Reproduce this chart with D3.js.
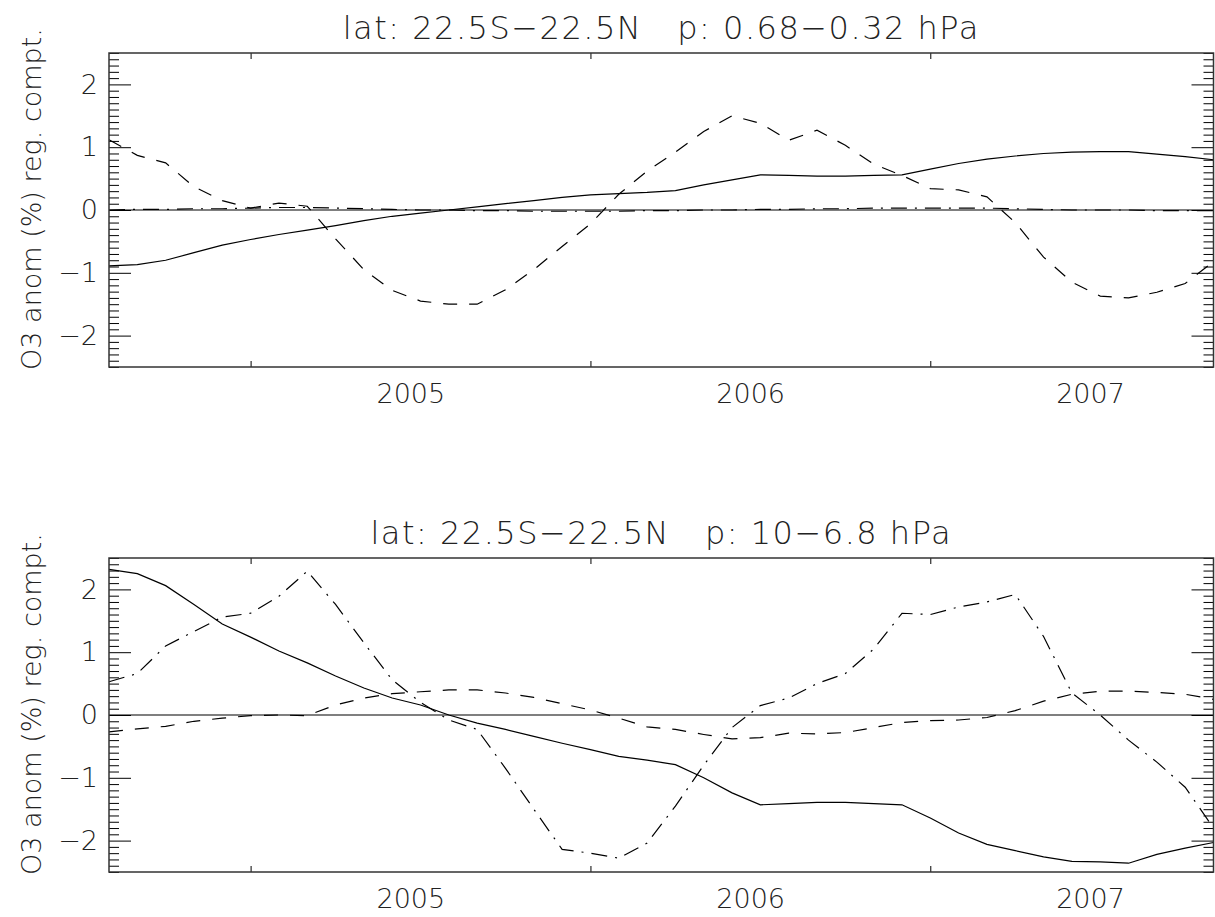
<!DOCTYPE html>
<meta charset="utf-8">
<style>
body { margin: 0; background: #fff; }
text { font-family: "DejaVu Sans", sans-serif; font-weight: 200; fill: #222; }
.tick line { stroke: #000; stroke-width: 1; }
.frame { fill: none; stroke: #333; stroke-width: 1.5; }
.series { fill: none; stroke: #000; stroke-width: 1.2; }
</style>
<body>
<script src="https://cdn.jsdelivr.net/npm/d3@7"></script>
<script>

// monthly points, Aug 2004 .. Nov 2007
var startYear = 2004, startMonth = 7, nMonths = 40;
var months = d3.range(nMonths).map(function(i) { return startYear + (startMonth + i) / 12; });

var yearTicks = [2005, 2006, 2007];
var yearLabels = ["2005", "2006", "2007"];
var yMajor = [-2, -1, 0, 1, 2];

var titles = ["lat: 22.5S\u221222.5N   p: 0.68\u22120.32 hPa",
              "lat: 22.5S\u221222.5N   p: 10\u22126.8 hPa"];
var yLabel = "O3 anom (%) reg. compt.";

// upper panel (0.68-0.32 hPa)
var solidTop = [-0.89, -0.87, -0.80, -0.68, -0.56, -0.47, -0.39, -0.32, -0.25, -0.17,
                -0.10, -0.05, 0.00, 0.05, 0.10, 0.15, 0.20, 0.24, 0.26, 0.28,
                0.31, 0.40, 0.48, 0.56, 0.55, 0.54, 0.54, 0.55, 0.56, 0.65,
                0.74, 0.81, 0.86, 0.90, 0.92, 0.93, 0.93, 0.89, 0.85, 0.80];
var dashTop = [1.12, 0.87, 0.75, 0.37, 0.15, 0.03, 0.11, 0.06, -0.46, -0.95,
               -1.28, -1.45, -1.50, -1.50, -1.27, -0.95, -0.58, -0.22, 0.25, 0.62,
               0.92, 1.25, 1.50, 1.38, 1.11, 1.27, 1.03, 0.73, 0.55, 0.34,
               0.32, 0.21, -0.20, -0.75, -1.15, -1.37, -1.40, -1.31, -1.17, -0.82];
var dashDotTop = [0.00, 0.01, 0.01, 0.02, 0.02, 0.03, 0.04, 0.04, 0.03, 0.02,
                  0.01, 0.00, 0.00, -0.01, -0.01, -0.02, -0.02, -0.02, -0.02, -0.01,
                  -0.01, 0.00, 0.00, 0.01, 0.01, 0.02, 0.02, 0.03, 0.03, 0.03,
                  0.03, 0.03, 0.02, 0.01, 0.00, 0.00, 0.00, -0.01, -0.01, -0.01];

// lower panel (10-6.8 hPa)
var solidBot = [2.32, 2.25, 2.06, 1.76, 1.45, 1.24, 1.02, 0.83, 0.62, 0.43,
                0.27, 0.16, 0.00, -0.13, -0.23, -0.34, -0.45, -0.55, -0.66, -0.72,
                -0.79, -1.00, -1.24, -1.43, -1.41, -1.39, -1.39, -1.41, -1.43, -1.64,
                -1.88, -2.06, -2.16, -2.26, -2.33, -2.34, -2.36, -2.22, -2.12, -2.03];
var dashBot = [-0.27, -0.22, -0.18, -0.10, -0.05, -0.01, 0.00, -0.01, 0.16, 0.27,
               0.34, 0.37, 0.40, 0.40, 0.35, 0.28, 0.18, 0.08, -0.05, -0.19,
               -0.23, -0.31, -0.38, -0.36, -0.29, -0.30, -0.28, -0.20, -0.12, -0.09,
               -0.08, -0.04, 0.07, 0.22, 0.33, 0.38, 0.38, 0.36, 0.33, 0.25];
var dashDotBot = [0.53, 0.66, 1.10, 1.33, 1.56, 1.62, 1.89, 2.29, 1.76, 1.15,
                  0.56, 0.20, -0.08, -0.23, -0.85, -1.50, -2.14, -2.20, -2.28, -2.04,
                  -1.45, -0.80, -0.20, 0.15, 0.27, 0.50, 0.66, 1.05, 1.62, 1.60,
                  1.72, 1.80, 1.92, 1.25, 0.35, 0.00, -0.40, -0.75, -1.15, -1.80];

var panels = [
  {title: titles[0], top: 53, series: [solidTop, dashTop, dashDotTop]},
  {title: titles[1], top: 558, series: [solidBot, dashBot, dashDotBot]}
];
var styles = [null, "14,12", "16,8,2,8"];

var width = 1215, height = 917,
    left = 109, right = 1213.5, plotH = 314;

var svg = d3.select("body").append("svg")
    .attr("width", width)
    .attr("height", height);

var x = d3.scaleLinear()
    .domain([months[0], months[nMonths - 1]])
    .range([left, right]);

var minor = d3.range(-25, 26).filter(function(d) { return d % 10 !== 0; })
    .map(function(d) { return d / 10; });

panels.forEach(function(p) {
  var y = d3.scaleLinear().domain([-2.5, 2.5]).range([p.top + plotH, p.top]);
  var g = svg.append("g");

  // y axes, left with labels, right mirrored
  g.append("g")
      .attr("transform", "translate(" + left + ",0)")
      .call(d3.axisLeft(y).tickValues(yMajor).tickSizeInner(-22).tickSizeOuter(0)
        .tickPadding(11).tickFormat(d3.format("d")))
      .call(function(a) { a.select(".domain").remove(); })
      .selectAll("text").style("font-size", "27px");
  g.append("g")
      .attr("transform", "translate(" + left + ",0)")
      .call(d3.axisLeft(y).tickValues(minor).tickSizeInner(-10).tickSizeOuter(0).tickFormat(""))
      .select(".domain").remove();
  g.append("g")
      .attr("transform", "translate(" + right + ",0)")
      .call(d3.axisRight(y).tickValues(yMajor).tickSizeInner(-22).tickSizeOuter(0).tickFormat(""))
      .select(".domain").remove();
  g.append("g")
      .attr("transform", "translate(" + right + ",0)")
      .call(d3.axisRight(y).tickValues(minor).tickSizeInner(-10).tickSizeOuter(0).tickFormat(""))
      .select(".domain").remove();

  // x ticks at Jan 1, year labels mid-year
  g.append("g")
      .attr("transform", "translate(0," + (p.top + plotH) + ")")
      .call(d3.axisBottom(x).tickValues(yearTicks).tickSizeInner(-6).tickSizeOuter(0).tickFormat(""))
      .select(".domain").remove();
  g.append("g")
      .attr("transform", "translate(0," + p.top + ")")
      .call(d3.axisTop(x).tickValues(yearTicks).tickSizeInner(-6).tickSizeOuter(0).tickFormat(""))
      .select(".domain").remove();
  g.append("g")
      .attr("transform", "translate(0," + (p.top + plotH) + ")")
      .call(d3.axisBottom(x).tickValues(yearTicks.map(function(d) { return d + 0.47; }))
        .tickSize(0).tickPadding(17).tickFormat(function(d, i) { return yearLabels[i]; }))
      .call(function(a) { a.select(".domain").remove(); })
      .selectAll("text").style("font-size", "27px");

  // zero line
  g.append("line")
      .attr("x1", left).attr("x2", right)
      .attr("y1", y(0)).attr("y2", y(0))
      .attr("stroke", "#000").attr("stroke-width", 1.2);

  var line = d3.line()
      .x(function(d, i) { return x(months[i]); })
      .y(function(d) { return y(d); });

  p.series.forEach(function(s, k) {
    g.append("path")
        .datum(s)
        .attr("class", "series")
        .attr("stroke-dasharray", styles[k])
        .attr("d", line);
  });

  g.append("rect")
      .attr("class", "frame")
      .attr("x", left).attr("y", p.top)
      .attr("width", right - left).attr("height", plotH);

  g.append("text")
      .attr("x", (left + right) / 2)
      .attr("y", p.top - 14)
      .attr("text-anchor", "middle")
      .style("font-size", "32px")
      .style("letter-spacing", "1.5px")
      .style("white-space", "pre")
      .text(p.title);

  g.append("text")
      .attr("transform", "translate(41," + (p.top + plotH / 2 - 11) + ") rotate(-90)")
      .attr("text-anchor", "middle")
      .style("font-size", "27px")
      .style("white-space", "pre")
      .text(yLabel);
});

</script>
</body>
